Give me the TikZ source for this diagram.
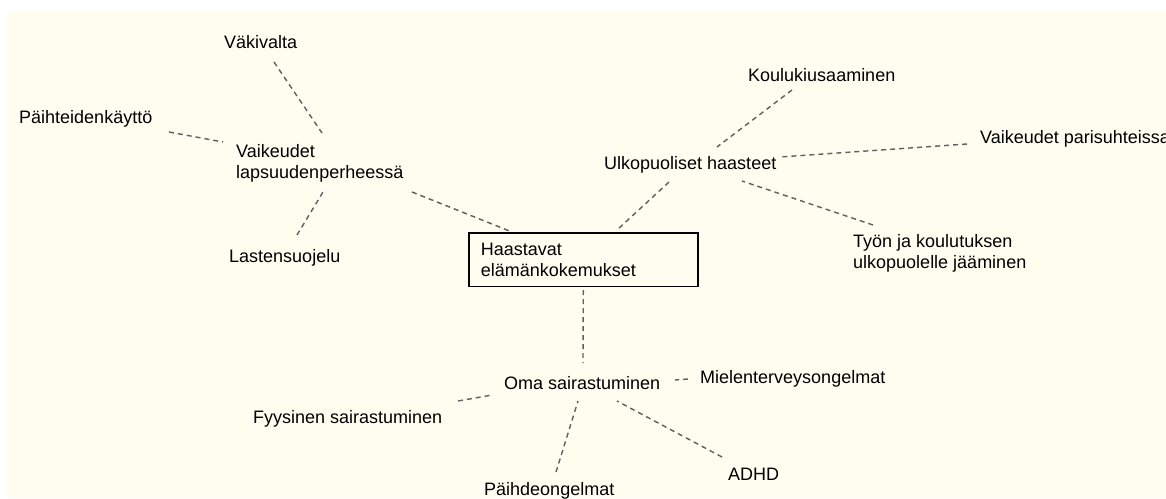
\documentclass[tikz,border=0pt]{standalone}
\usepackage{fontspec}
\setmainfont{Liberation Sans}
\usepackage{tikz}
\usetikzlibrary{positioning}
\definecolor{paper}{RGB}{255,252,240}
\definecolor{linkgray}{RGB}{95,95,95}

\begin{document}
\begin{tikzpicture}[x=1pt,y=-1pt,
	topic node/.style={inner sep=0pt,anchor=base west,align=left,font=\fontsize{18}{21}\selectfont},
	main node/.style={draw,line width=1.6pt,text width=205pt,align=left,inner xsep=12pt,inner ysep=10pt,
		anchor=north west,font=\fontsize{18}{21}\selectfont},
	link line/.style={draw=linkgray,line width=1.4pt,dash pattern=on 5pt off 4pt}]

	\useasboundingbox (0,0) rectangle (1166,498);
	\fill[paper] (7,12) rectangle (1166,498);

	\node[main node] (haas) at (468,232) {Haastavat\\elämänkokemukset};

	\node[topic node] (vaik) at (236,178) {Vaikeudet\\lapsuudenperheessä};
	\node[topic node] (vak) at (224,48) {Väkivalta};
	\node[topic node] (paih) at (19,123) {Päihteidenkäyttö};
	\node[topic node] (last) at (229,262) {Lastensuojelu};

	\node[topic node] (ulko) at (604,169) {Ulkopuoliset haasteet};
	\node[topic node] (koul) at (748,81) {Koulukiusaaminen};
	\node[topic node] (pari) at (980,143) {Vaikeudet parisuhteissa};
	\node[topic node] (tyon) at (853,268) {Työn ja koulutuksen\\ulkopuolelle jääminen};

	\node[topic node] (oma) at (504,389) {Oma sairastuminen};
	\node[topic node] (miel) at (700,383) {Mielenterveysongelmat};
	\node[topic node] (adhd) at (728,480) {ADHD};
	\node[topic node] (fyys) at (253,423) {Fyysinen sairastuminen};
	\node[topic node] (paide) at (484,495) {Päihdeongelmat};

	\path[link line]
	([shift={(50,14)}]vak.base west) edge ([shift={(86,-45)}]vaik.base west)
	([shift={(150,9)}]paih.base west) edge ([shift={(-13,-36)}]vaik.base west)
	([shift={(68,-27)}]last.base west) edge ([shift={(87,14)}]vaik.base west)
	([shift={(176,14)}]vaik.base west) edge ([shift={(44,0)}]haas.north west)
	([shift={(65,13)}]ulko.base west) edge ([shift={(149,-2)}]haas.north west)
	([shift={(44,9)}]koul.base west) edge ([shift={(113,-22)}]ulko.base west)
	([shift={(-13,1)}]pari.base west) edge ([shift={(176,-12)}]ulko.base west)
	([shift={(20,-43)}]tyon.base west) edge ([shift={(138,12)}]ulko.base west)
	([shift={(0,3)}]haas.south) edge ([shift={(79,-26)}]oma.base west)
	([shift={(-12,-4)}]miel.base west) edge ([shift={(171,-9)}]oma.base west)
	([shift={(-6,-23)}]adhd.base west) edge ([shift={(113,12)}]oma.base west)
	([shift={(205,-22)}]fyys.base west) edge ([shift={(-12,6)}]oma.base west)
	([shift={(72,-23)}]paide.base west) edge ([shift={(74,12)}]oma.base west);

\end{tikzpicture}
\end{document}
